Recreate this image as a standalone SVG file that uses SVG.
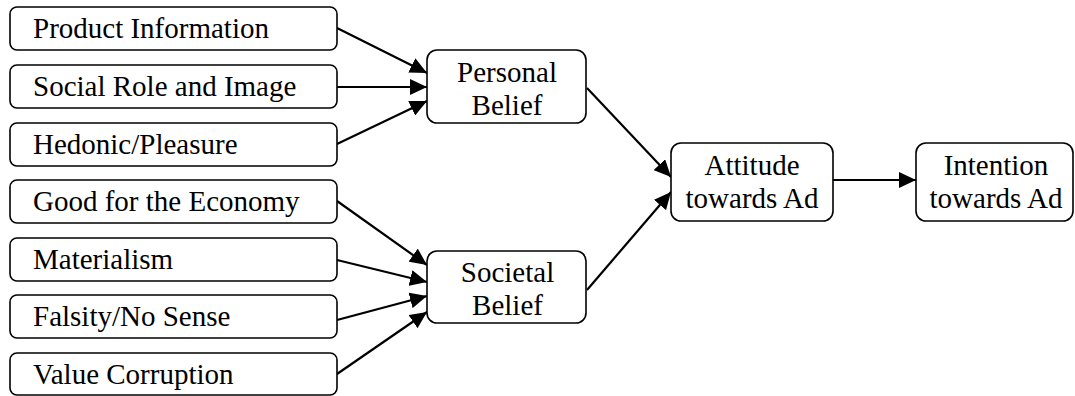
<svg xmlns="http://www.w3.org/2000/svg" width="1075" height="396" viewBox="0 0 1075 396" font-family="Liberation Serif, Times New Roman, serif">
<style>
.box{fill:#fff;stroke:#000;stroke-width:1.6}
text{font-family:'Liberation Serif','Times New Roman',serif;font-size:29px;fill:#000}
.c{text-anchor:middle}
.e{stroke:#000;stroke-width:2.2;fill:none;marker-end:url(#ah)}
</style>
<defs>
<marker id="ah" markerUnits="userSpaceOnUse" markerWidth="18" markerHeight="16" refX="17" refY="8" orient="auto">
<path d="M0,0 L17,8 L0,16 z" fill="#000"/>
</marker>
</defs>
<rect width="1075" height="396" fill="#fff"/>
<g id="connectors">
<line class="e" x1="337" y1="28" x2="427" y2="73"/>
<line class="e" x1="337" y1="87" x2="427" y2="87"/>
<line class="e" x1="337" y1="144" x2="427" y2="101"/>
<line class="e" x1="337" y1="201" x2="427" y2="265"/>
<line class="e" x1="337" y1="260" x2="427" y2="282"/>
<line class="e" x1="337" y1="320" x2="427" y2="296"/>
<line class="e" x1="337" y1="374" x2="427" y2="312"/>
<line class="e" x1="587" y1="88" x2="671" y2="177"/>
<line class="e" x1="587" y1="290" x2="671" y2="192"/>
<line class="e" x1="833" y1="180" x2="916" y2="180"/>
</g>
<g id="n1"><rect class="box" x="10" y="7" width="327" height="43" rx="7"/><text x="33" y="37.5">Product Information</text></g>
<g id="n2"><rect class="box" x="10" y="65" width="327" height="43" rx="7"/><text x="33" y="95.5">Social Role and Image</text></g>
<g id="n3"><rect class="box" x="10" y="123" width="327" height="43" rx="7"/><text x="33" y="153.5">Hedonic/Pleasure</text></g>
<g id="n4"><rect class="box" x="10" y="180" width="327" height="43" rx="7"/><text x="33" y="210.5">Good for the Economy</text></g>
<g id="n5"><rect class="box" x="10" y="238" width="327" height="43" rx="7"/><text x="33" y="268.5">Materialism</text></g>
<g id="n6"><rect class="box" x="10" y="295" width="327" height="43" rx="7"/><text x="33" y="325.5">Falsity/No Sense</text></g>
<g id="n7"><rect class="box" x="10" y="353" width="327" height="42" rx="7"/><text x="33" y="383.5">Value Corruption</text></g>
<g id="personal"><rect class="box" x="427" y="50" width="159" height="73" rx="10"/><text class="c" x="507" y="82">Personal</text><text class="c" x="507" y="115">Belief</text></g>
<g id="societal"><rect class="box" x="427" y="251" width="159" height="72" rx="10"/><text class="c" x="507.5" y="282">Societal</text><text class="c" x="507.5" y="315">Belief</text></g>
<g id="attitude"><rect class="box" x="671" y="143" width="162" height="78" rx="10"/><text class="c" x="752" y="175">Attitude</text><text class="c" x="752" y="208">towards Ad</text></g>
<g id="intention"><rect class="box" x="916" y="143" width="157" height="78" rx="10"/><text class="c" x="996" y="175">Intention</text><text class="c" x="996" y="208">towards Ad</text></g>
</svg>
